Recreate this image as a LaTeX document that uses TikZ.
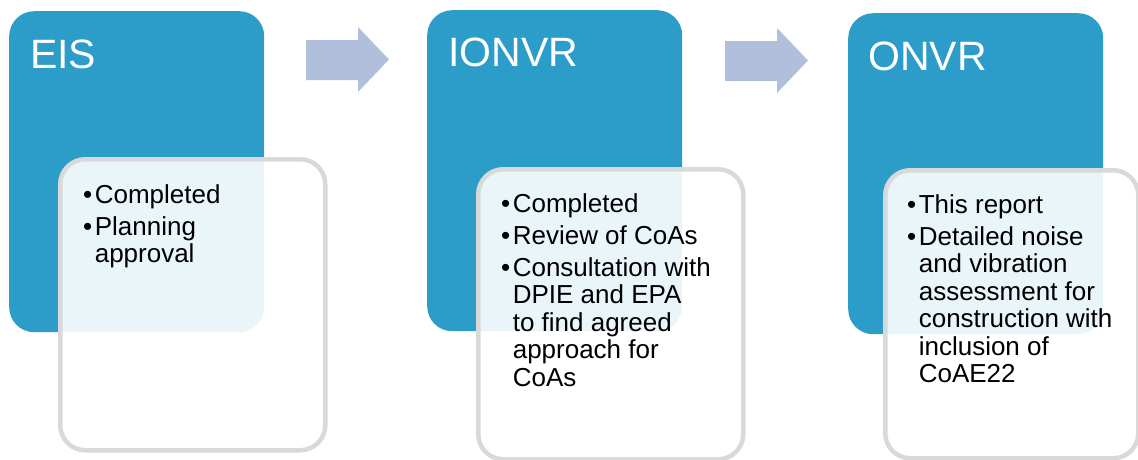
\documentclass[tikz,border=0pt]{standalone}
\usepackage{fontspec}
\setmainfont{Liberation Sans}
\usepackage{tikz}
\definecolor{stageblue}{RGB}{44,156,200}
\definecolor{arrowblue}{RGB}{176,192,220}
\definecolor{notegray}{RGB}{217,217,217}
\newcommand{\bul}{\textbullet\hspace{2.5pt}}
\newcommand{\nobul}{\phantom{\textbullet}\hspace{2.5pt}}

\begin{document}
\begin{tikzpicture}[x=1pt,y=-1pt,
  stagebox/.style={fill=stageblue,rounded corners=25pt,anchor=north west,inner sep=0pt,minimum width=255pt,minimum height=321pt},
  notebox/.style={draw=notegray,line width=4.5pt,fill=white,fill opacity=0.9,rounded corners=25pt,anchor=north west,inner sep=0pt},
  stagetitle/.style={text=white,anchor=base west,inner sep=0pt,font=\fontsize{41}{41}\selectfont},
  notetext/.style={anchor=base west,inner sep=0pt,align=left,font=\fontsize{26}{27.5}\selectfont}]
\useasboundingbox (0,0) rectangle (1138,459);

\node[stagebox] (eis) at (9,11) {};
\node[stagebox] (ionvr) at (427,10) {};
\node[stagebox] (onvr) at (848,13) {};

\fill[arrowblue] (306,40) -- (358,40) -- (358,27) -- (389,59.5) -- (358,92) -- (358,80) -- (306,80) -- cycle;
\fill[arrowblue] (725,41) -- (777,41) -- (777,28) -- (808,60.5) -- (777,93) -- (777,81) -- (725,81) -- cycle;

\node[notebox,minimum width=265pt,minimum height=291pt] (eisnote) at (58,157) {};
\node[notebox,minimum width=265pt,minimum height=290pt] (ionvrnote) at (476,167) {};
\node[notebox,minimum width=253pt,minimum height=288pt] (onvrnote) at (883,168) {};

\node[stagetitle] (eistitle) at (30,68) {EIS};
\node[stagetitle] (ionvrtitle) at (448,66) {IONVR};
\node[stagetitle] (onvrtitle) at (868,70) {ONVR};

% lists sit on the baseline of their last line
\node[notetext] (eislist) at (83,262.5) {\bul Completed\\[4.5pt]
  \bul Planning\\ \nobul approval};
\node[notetext] (ionvrlist) at (501,386) {\bul Completed\\[4.5pt]
  \bul Review of CoAs\\[4.5pt]
  \bul Consultation with\\ \nobul DPIE and EPA\\ \nobul to find agreed\\
  \nobul approach for\\ \nobul CoAs};
\node[notetext] (onvrlist) at (907,382.5) {\bul This report\\[4.5pt]
  \bul Detailed noise\\ \nobul and vibration\\ \nobul assessment for\\
  \nobul construction with\\ \nobul inclusion of\\ \nobul CoAE22};
\end{tikzpicture}
\end{document}
